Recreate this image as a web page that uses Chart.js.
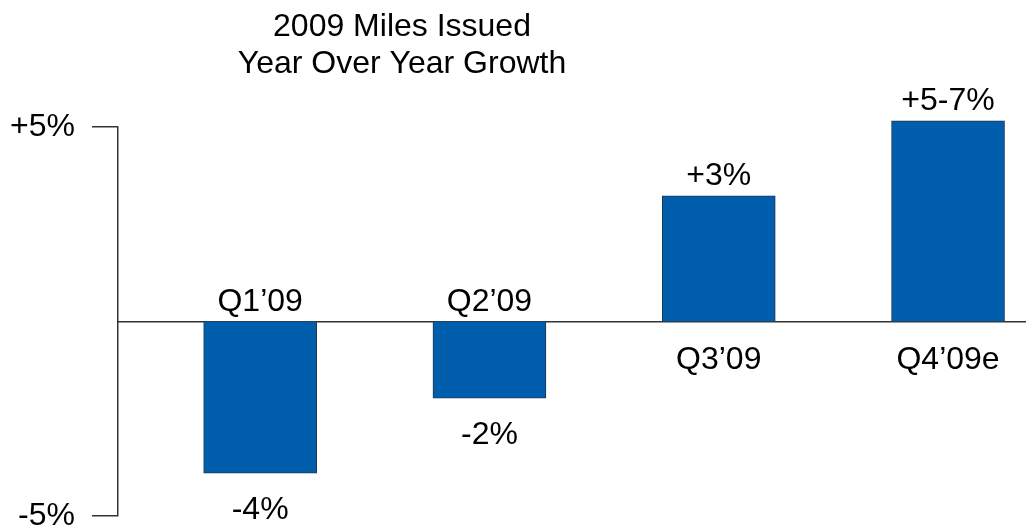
<!DOCTYPE html>
<html>
<head>
<meta charset="utf-8">
<script src="https://cdn.jsdelivr.net/npm/chart.js@4.4.1/dist/chart.umd.min.js"></script>
<style>
  html, body { margin: 0; padding: 0; background: #fff; overflow: hidden; }
</style>
</head>
<body>
<canvas id="growth" width="1026" height="530"></canvas>
<script>
const quarters = ['Q1\u201909', 'Q2\u201909', 'Q3\u201909', 'Q4\u201909e'];
const growth = [-3.9, -1.97, 3.23, 5.16];
const growthLabels = ['-4%', '-2%', '+3%', '+5-7%'];
const yTicks = [-5, 5];
const yTickLabels = ['-5%', '+5%'];
const titleLines = ['2009 Miles Issued', 'Year Over Year Growth'];

const FONT = '"Liberation Sans", Arial, sans-serif';

// category + value text around each bar, plus the two-line title
const barText = {
  id: 'barText',
  afterDatasetsDraw(chart) {
    const { ctx } = chart;
    const zero = chart.scales.y.getPixelForValue(0);
    ctx.save();
    ctx.font = '32px ' + FONT;
    ctx.fillStyle = '#000';
    ctx.textAlign = 'center';
    ctx.textBaseline = 'alphabetic';
    chart.getDatasetMeta(0).data.forEach((bar, i) => {
      const up = growth[i] >= 0;
      ctx.fillText(quarters[i], bar.x, up ? zero + 47 : zero - 11);
      ctx.fillText(growthLabels[i], bar.x, up ? bar.y - 11 : bar.y + 46);
    });
    ctx.fillText(titleLines[0], 402, 36);
    ctx.fillText(titleLines[1], 402, 73);
    ctx.restore();
  }
};

new Chart(document.getElementById('growth'), {
  type: 'bar',
  plugins: [barText],
  data: {
    datasets: [{
      data: growth.map((v, i) => ({ x: i, y: v })),
      backgroundColor: '#005EAD',
      borderColor: '#1f3550',
      borderWidth: 1,
      barThickness: 113,
      clip: false
    }]
  },
  options: {
    responsive: false,
    animation: false,
    layout: { padding: { top: 127, right: 0, bottom: 14, left: 0 } },
    plugins: {
      legend: { display: false },
      tooltip: { enabled: false }
    },
    scales: {
      x: {
        type: 'linear',
        offset: false,
        min: -0.62,
        max: 3.34,
        position: { y: 0 },
        ticks: { display: false },
        grid: { display: false },
        border: { color: '#333', width: 1.5 }
      },
      y: {
        min: -5,
        max: 5,
        afterBuildTicks: s => { s.ticks = yTicks.map(v => ({ value: v })); },
        afterFit: s => {
          s.width = 118;
          s.paddingTop = 0;
          s.paddingBottom = 0;
        },
        ticks: {
          callback: v => yTickLabels[yTicks.indexOf(v)],
          font: { size: 32, family: FONT },
          color: '#000',
          padding: 17
        },
        grid: {
          drawOnChartArea: false,
          drawTicks: true,
          tickLength: 26,
          color: '#333',
          lineWidth: 1.5
        },
        border: { color: '#333', width: 1.5 }
      }
    }
  }
});
</script>
</body>
</html>
